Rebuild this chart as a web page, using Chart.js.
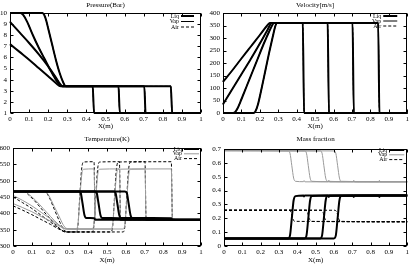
<!DOCTYPE html>
<html><head><meta charset="utf-8">
<script src="https://cdn.jsdelivr.net/npm/chart.js@4.4.1/dist/chart.umd.min.js"></script>
<style>
html,body{margin:0;padding:0;background:#fff;}
body{width:411px;height:267px;position:relative;overflow:hidden;}
canvas{position:absolute;display:block;}
</style></head><body>
<canvas id="c1" width="205" height="133" style="left:0;top:0"></canvas>
<canvas id="c2" width="206" height="133" style="left:205px;top:0"></canvas>
<canvas id="c3" width="205" height="134" style="left:0;top:133px"></canvas>
<canvas id="c4" width="206" height="134" style="left:205px;top:133px"></canvas>
<script>
// ---------------- data ----------------
const legendLabels = ["Liq", "Vap", "Air"];
const titles = ["Pressure(Bar)", "Velocity[m/s]", "Temperature(K)", "Mass fraction"];
const xAxisTitle = "X(m)";

// Pressure (Bar) — identical for the three phases, four instants
const pressureT1 = [[0,10],[0.17,10],[0.18,9.8],[0.19,9.3],[0.2,8.6],[0.22,7.2],[0.24,5.8],[0.26,4.6],[0.28,3.7],[0.29,3.42],[0.3,3.4],[0.433,3.4],[0.44,1],[1,1]];
const pressureT2 = [[0,10],[0.055,10],[0.07,9.8],[0.09,9.2],[0.12,8.0],[0.15,6.9],[0.18,5.9],[0.21,4.9],[0.24,4.0],[0.26,3.55],[0.275,3.4],[0.568,3.4],[0.575,1],[1,1]];
const pressureT3 = [[0,9.2],[0.05,8.25],[0.1,7.3],[0.15,6.3],[0.2,5.2],[0.24,4.2],[0.265,3.55],[0.275,3.4],[0.703,3.4],[0.71,1],[1,1]];
const pressureT4 = [[0,7.2],[0.05,6.5],[0.1,5.8],[0.15,5.05],[0.2,4.3],[0.24,3.7],[0.265,3.4],[0.842,3.4],[0.849,1],[1,1]];

// Velocity [m/s]
const velocityT1 = [[0,0],[0.165,0],[0.175,5],[0.19,35],[0.21,100],[0.23,170],[0.25,240],[0.27,305],[0.285,350],[0.292,360],[0.433,360],[0.44,0],[1,0]];
const velocityT2 = [[0,0],[0.055,0],[0.065,3],[0.08,20],[0.1,55],[0.13,110],[0.16,165],[0.19,220],[0.22,275],[0.25,325],[0.27,355],[0.275,360],[0.568,360],[0.575,0],[1,0]];
const velocityT3 = [[0,35],[0.05,95],[0.1,155],[0.15,215],[0.2,278],[0.24,330],[0.265,360],[0.703,360],[0.71,0],[1,0]];
const velocityT4 = [[0,125],[0.05,170],[0.1,218],[0.15,265],[0.2,312],[0.24,350],[0.255,360],[0.842,360],[0.849,0],[1,0]];

// Temperature (K)
const tempLiqT1 = [[0,467],[0.35,467],[0.36,463],[0.37,430],[0.38,395],[0.39,386],[0.432,385],[0.438,380],[1,380]];
const tempLiqT2 = [[0,467],[0.435,467],[0.445,463],[0.455,430],[0.465,395],[0.475,386],[0.567,385],[0.573,380],[1,380]];
const tempLiqT3 = [[0,467],[0.535,467],[0.545,463],[0.555,430],[0.565,395],[0.575,386],[0.703,385],[0.709,380],[1,380]];
const tempLiqT4 = [[0,467],[0.595,467],[0.605,463],[0.615,430],[0.625,395],[0.635,386],[0.842,385],[0.848,380],[1,380]];
const tempVapT1 = [[0,467],[0.17,467],[0.19,455],[0.22,420],[0.25,385],[0.27,362],[0.29,353],[0.335,352],[0.345,365],[0.355,440],[0.365,515],[0.375,535],[0.431,536],[0.437,382],[1,380]];
const tempVapT2 = [[0,467],[0.06,467],[0.08,460],[0.12,440],[0.16,415],[0.2,390],[0.24,367],[0.27,354],[0.29,352],[0.42,352],[0.43,365],[0.44,440],[0.45,515],[0.46,535],[0.566,536],[0.572,382],[1,380]];
const tempVapT3 = [[0,455],[0.05,440],[0.1,423],[0.15,403],[0.2,383],[0.25,362],[0.28,353],[0.3,352],[0.52,352],[0.53,365],[0.54,440],[0.55,515],[0.56,535],[0.702,536],[0.708,382],[1,380]];
const tempVapT4 = [[0,430],[0.05,418],[0.1,405],[0.15,390],[0.2,376],[0.25,360],[0.28,352],[0.585,352],[0.595,365],[0.605,440],[0.615,515],[0.625,535],[0.842,536],[0.848,382],[1,380]];
const tempAirT1 = [[0,467],[0.17,467],[0.19,452],[0.22,412],[0.25,372],[0.27,350],[0.29,343],[0.335,343],[0.345,360],[0.355,450],[0.365,535],[0.375,557],[0.431,558],[0.437,382],[1,380]];
const tempAirT2 = [[0,467],[0.06,467],[0.08,458],[0.12,435],[0.16,408],[0.2,382],[0.24,358],[0.27,345],[0.29,343],[0.42,343],[0.43,360],[0.44,450],[0.45,535],[0.46,557],[0.566,558],[0.572,382],[1,380]];
const tempAirT3 = [[0,450],[0.05,433],[0.1,415],[0.15,394],[0.2,373],[0.25,352],[0.28,343],[0.52,343],[0.53,360],[0.54,450],[0.55,535],[0.56,557],[0.702,558],[0.708,382],[1,380]];
const tempAirT4 = [[0,423],[0.05,410],[0.1,396],[0.15,381],[0.2,366],[0.25,350],[0.28,343],[0.585,343],[0.595,360],[0.605,450],[0.615,535],[0.625,557],[0.842,558],[0.848,382],[1,380]];

// Mass fraction (small blips at each shock position)
const massLiqT1 = [[0,0.055],[0.35,0.055],[0.36,0.075],[0.37,0.2],[0.38,0.33],[0.39,0.36],[0.434,0.364],[0.437,0.358],[0.441,0.365],[1,0.365]];
const massLiqT2 = [[0,0.055],[0.44,0.055],[0.45,0.075],[0.46,0.2],[0.47,0.33],[0.48,0.36],[0.568,0.364],[0.572,0.354],[0.576,0.365],[1,0.365]];
const massLiqT3 = [[0,0.055],[0.525,0.055],[0.535,0.075],[0.545,0.2],[0.555,0.33],[0.565,0.36],[0.704,0.364],[0.708,0.354],[0.712,0.365],[1,0.365]];
const massLiqT4 = [[0,0.055],[0.6,0.055],[0.61,0.075],[0.62,0.2],[0.63,0.33],[0.64,0.36],[0.844,0.364],[0.848,0.354],[0.852,0.365],[1,0.365]];
const massVapT1 = [[0,0.688],[0.35,0.686],[0.36,0.67],[0.37,0.58],[0.38,0.49],[0.39,0.467],[0.434,0.464],[0.437,0.472],[0.441,0.463],[1,0.463]];
const massVapT2 = [[0,0.688],[0.44,0.686],[0.45,0.67],[0.46,0.58],[0.47,0.49],[0.48,0.467],[0.568,0.464],[0.572,0.474],[0.576,0.463],[1,0.463]];
const massVapT3 = [[0,0.688],[0.525,0.686],[0.535,0.67],[0.545,0.58],[0.555,0.49],[0.565,0.467],[0.704,0.464],[0.708,0.474],[0.712,0.463],[1,0.463]];
const massVapT4 = [[0,0.688],[0.6,0.686],[0.61,0.67],[0.62,0.58],[0.63,0.49],[0.64,0.467],[0.844,0.464],[0.848,0.474],[0.852,0.463],[1,0.463]];
const massAirT1 = [[0,0.258],[0.355,0.258],[0.365,0.245],[0.375,0.2],[0.385,0.178],[1,0.175]];
const massAirT2 = [[0,0.258],[0.445,0.258],[0.455,0.245],[0.465,0.2],[0.475,0.178],[1,0.175]];
const massAirT3 = [[0,0.258],[0.53,0.258],[0.54,0.245],[0.55,0.2],[0.56,0.178],[1,0.175]];
const massAirT4 = [[0,0.258],[0.605,0.258],[0.615,0.245],[0.625,0.2],[0.635,0.178],[1,0.175]];

// ---------------- rendering ----------------
const FONT = '"Liberation Serif", "DejaVu Serif", serif';
const toXY = a => a.map(p => ({x: p[0], y: p[1]}));
const fmt = v => String(+Number(v).toFixed(2));

function styleOf(kind, greyVap) {
  if (kind === 0) return {borderColor: '#000', borderWidth: 2, borderDash: []};
  if (kind === 1) return {borderColor: greyVap ? '#9a9a9a' : '#000', borderWidth: 1, borderDash: []};
  return {borderColor: '#000', borderWidth: 1, borderDash: [3, 2]};
}

const panelPlugin = {
  id: 'panel',
  afterDatasetsDraw(chart, args, o) {
    const {ctx, chartArea: a, scales: {x, y}} = chart;
    ctx.save();
    ctx.strokeStyle = '#000';
    ctx.lineWidth = 1;
    ctx.setLineDash([]);
    const L = Math.round(a.left) + 0.5, R = Math.round(a.right) - 0.5;
    const T = Math.round(a.top) + 0.5, B = Math.round(a.bottom) - 0.5;
    ctx.strokeRect(L, T, R - L, B - T);
    ctx.beginPath();
    x.ticks.forEach(t => {
      const px = Math.round(x.getPixelForValue(t.value)) + 0.5;
      ctx.moveTo(px, B); ctx.lineTo(px, B - 3);
      ctx.moveTo(px, T); ctx.lineTo(px, T + 3);
    });
    y.ticks.forEach(t => {
      const py = Math.round(y.getPixelForValue(t.value)) + 0.5;
      ctx.moveTo(L, py); ctx.lineTo(L + 3, py);
      ctx.moveTo(R, py); ctx.lineTo(R - 3, py);
    });
    ctx.stroke();
    // title
    ctx.fillStyle = '#000';
    ctx.font = '7px ' + FONT;
    ctx.textAlign = 'center';
    ctx.textBaseline = 'middle';
    ctx.fillText(o.title, (a.left + a.right) / 2, o.titleY);
    // legend (gnuplot style: text right-aligned, sample to the right)
    ctx.font = '6px ' + FONT;
    ctx.textAlign = 'right';
    legendLabels.forEach((lab, i) => {
      const st = styleOf(i, o.greyVap);
      const yy = a.top + o.legTop + i * o.legStep;
      ctx.fillStyle = '#000';
      ctx.fillText(lab, a.right - o.legTextR, yy);
      ctx.beginPath();
      ctx.strokeStyle = st.borderColor;
      ctx.lineWidth = st.borderWidth;
      ctx.setLineDash(st.borderDash);
      ctx.moveTo(a.right - o.legTextR + 2, yy);
      ctx.lineTo(a.right - o.legTextR + 2 + o.legLen, yy);
      ctx.stroke();
    });
    ctx.restore();
  }
};

function makePanel(id, cfg) {
  const datasets = [];
  [0, 1, 2].forEach(kind => {
    cfg.series[kind].forEach(arr => {
      const st = styleOf(kind, cfg.greyVap);
      datasets.push(Object.assign({data: toXY(arr), pointRadius: 0, clip: 2,
        cubicInterpolationMode: 'monotone', fill: false}, st));
    });
  });
  new Chart(document.getElementById(id), {
    type: 'line',
    data: {datasets},
    options: {
      responsive: false, animation: false, devicePixelRatio: 1,
      layout: {padding: {top: cfg.top, right: cfg.right, left: 0, bottom: 0}},
      plugins: {legend: {display: false}, tooltip: {enabled: false},
        panel: {title: cfg.title, titleY: cfg.titleY, greyVap: cfg.greyVap,
          legTop: cfg.legTop, legStep: cfg.legStep, legTextR: cfg.legTextR, legLen: cfg.legLen}},
      scales: {
        x: {type: 'linear', min: 0, max: 1,
          ticks: {stepSize: 0.1, padding: 2, color: '#000', autoSkip: false, maxRotation: 0,
            font: {family: FONT, size: 7}, callback: fmt},
          grid: {display: false, drawTicks: false}, border: {display: false},
          title: {display: true, text: xAxisTitle, color: '#000', font: {family: FONT, size: 7}, padding: {top: 0, bottom: 3}},
          afterFit: s => { s.height = cfg.xh; }},
        y: {type: 'linear', min: cfg.ymin, max: cfg.ymax,
          ticks: {stepSize: cfg.ystep, padding: 3, color: '#000', autoSkip: false,
            font: {family: FONT, size: 7}, callback: fmt},
          grid: {display: false, drawTicks: false}, border: {display: false},
          afterFit: s => { s.width = cfg.yw; }}
      }
    },
    plugins: [panelPlugin]
  });
}

const pressureSet = [pressureT1, pressureT2, pressureT3, pressureT4];
const velocitySet = [velocityT1, velocityT2, velocityT3, velocityT4];

makePanel('c1', {title: titles[0], titleY: 5, top: 13, right: 4, yw: 10, xh: 20,
  ymin: 1, ymax: 10, ystep: 1, greyVap: false,
  legTop: 3, legStep: 5.5, legTextR: 22, legLen: 13,
  series: [pressureSet, pressureSet, pressureSet]});
makePanel('c2', {title: titles[1], titleY: 5, top: 13, right: 2, yw: 18, xh: 20,
  ymin: 0, ymax: 400, ystep: 50, greyVap: false,
  legTop: 3, legStep: 5, legTextR: 26, legLen: 14,
  series: [velocitySet, velocitySet, velocitySet]});
makePanel('c3', {title: titles[2], titleY: 6, top: 15, right: 4, yw: 13, xh: 21,
  ymin: 300, ymax: 600, ystep: 50, greyVap: true,
  legTop: 1, legStep: 4.8, legTextR: 19, legLen: 15,
  series: [[tempLiqT1, tempLiqT2, tempLiqT3, tempLiqT4],
           [tempVapT1, tempVapT2, tempVapT3, tempVapT4],
           [tempAirT1, tempAirT2, tempAirT3, tempAirT4]]});
makePanel('c4', {title: titles[3], titleY: 6, top: 16, right: 2, yw: 19, xh: 21,
  ymin: 0, ymax: 0.7, ystep: 0.1, greyVap: true,
  legTop: 1, legStep: 4.8, legTextR: 20, legLen: 15,
  series: [[massLiqT1, massLiqT2, massLiqT3, massLiqT4],
           [massVapT1, massVapT2, massVapT3, massVapT4],
           [massAirT1, massAirT2, massAirT3, massAirT4]]});
</script>
</body></html>
